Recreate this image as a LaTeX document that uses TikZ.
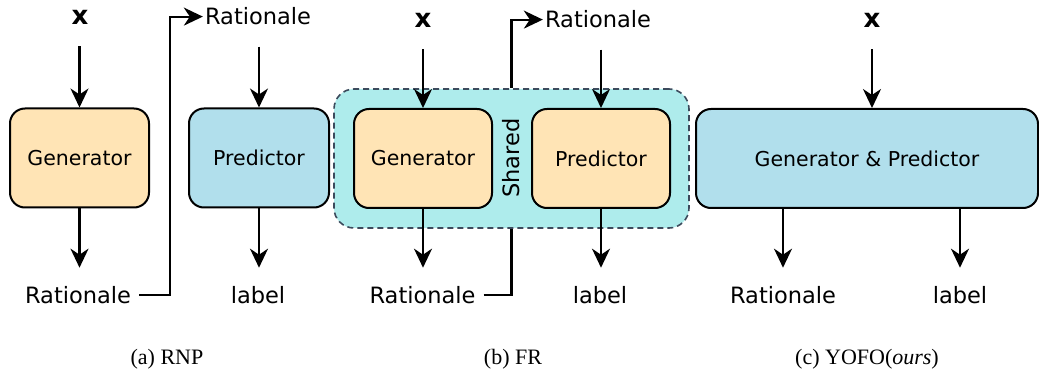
\documentclass[tikz,border=0pt]{standalone}
\usepackage{fontspec}
\setmainfont{DejaVu Sans}
\newfontfamily\capfont{Liberation Serif}
\usetikzlibrary{arrows.meta}
\definecolor{orng}{HTML}{FFE4B5}
\definecolor{blu}{HTML}{B1DFEC}
\definecolor{cyn}{HTML}{AEECEC}
\definecolor{dsh}{HTML}{3C4A5C}
\begin{document}
\begin{tikzpicture}[x=1pt,y=-1pt,
  box/.style={draw=black,line width=2pt,rounded corners=15pt,minimum height=99pt,inner sep=0pt,font=\fontsize{20.5}{24}\selectfont},
  gbox/.style={box,fill=orng,minimum width=139pt},
  pbox/.style={box,fill=blu,minimum width=140pt},
  cont/.style={draw=dsh,fill=cyn,line width=1.6pt,dash pattern=on 6pt off 4pt,rounded corners=20pt,minimum width=355pt,minimum height=139pt},
  txt/.style={inner sep=2pt,anchor=base,font=\fontsize{22.5}{27}\selectfont},
  xin/.style={inner sep=2pt,anchor=base,font=\fontsize{26}{30}\selectfont\bfseries},
  captxt/.style={inner sep=0pt,anchor=base,font=\fontsize{22}{26}\selectfont\capfont},
  arr/.style={line width=2.2pt,-{Stealth[length=19pt,width=18pt,inset=6pt]}},
  ln/.style={line width=2.2pt},
]
\useasboundingbox (0,0) rectangle (1039,374);

% ---------- (a) RNP ----------
\node[gbox] (g1) at (79.5,158) {Generator};
\node[pbox] (p1) at (259,158) {Predictor};
\node[xin] (x1) at (80,25) {x};
\node[txt] (r2) at (258,25) {Rationale};
\node[txt] (r1) at (78,303) {Rationale};
\node[txt] (l1) at (258,303) {label};
\coordinate (ea) at (170,0);
\draw[arr,shorten <=19pt] (x1.south -| g1.north) -- (g1.north);
\draw[arr,shorten <=19pt] (r2.south -| p1.north) -- (p1.north);
\draw[arr,shorten >=16pt] (g1.south) -- (g1.south |- r1.north);
\draw[arr,shorten >=16pt] (p1.south) -- (p1.south |- l1.north);
\draw[arr,shorten <=6pt] (r1.east) -| (r2.west -| ea) -- (r2.west);

% ---------- (b) FR ----------
\node[cont] (sh) at (511.5,158.5) {};
\node[gbox,minimum width=138pt] (g2) at (423,158.5) {Generator};
\node[gbox,minimum width=138pt] (p2) at (601,158.5) {Predictor};
\node[rotate=90,inner sep=0pt,font=\fontsize{22.5}{27}\selectfont] (shl) at (511,158) {Shared};
\node[xin] (x2) at (423,28) {x};
\node[txt] (r3) at (598,28) {Rationale};
\node[txt] (r4) at (422.5,303) {Rationale};
\node[txt] (l2) at (600,303) {label};
\draw[arr,shorten <=19pt] (x2.south -| g2.north) -- (g2.north);
\draw[arr,shorten <=19pt] (r3.south -| p2.north) -- (p2.north);
\draw[arr,shorten >=16pt] (g2.south) -- (g2.south |- r4.north);
\draw[arr,shorten >=16pt] (p2.south) -- (p2.south |- l2.north);
\draw[arr] (sh.north) |- (r3.west);
\draw[ln,shorten <=6pt] (r4.east) -| (sh.south);

% ---------- (c) YOFO ----------
\node[box,fill=blu,minimum width=342pt] (c) at (867,158.5) {Generator \& Predictor};
\node[xin] (x3) at (872,28) {x};
\node[txt] (r5) at (783,303) {Rationale};
\node[txt] (l3) at (960,303) {label};
\draw[arr,shorten <=19pt] (x3.south) -- (x3.south |- c.north);
\draw[arr,shorten >=16pt] (r5.north |- c.south) -- (r5.north);
\draw[arr,shorten >=16pt] (l3.north |- c.south) -- (l3.north);

% ---------- captions ----------
\node[captxt] (ca) at (167,364) {(a) RNP};
\node[captxt] (cb) at (513,364) {(b) FR};
\node[captxt] (cc) at (867,364) {(c) YOFO(\textit{ours})};
\end{tikzpicture}
\end{document}
